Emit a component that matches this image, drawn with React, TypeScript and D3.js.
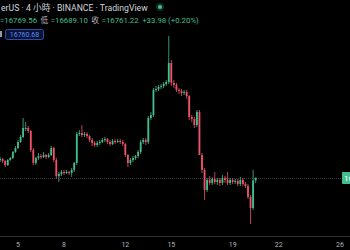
import React from 'react';
import * as d3 from 'd3';

const W = 350;
const H = 250;

const startTime = new Date(2022, 11, 3, 20);
const opens = [17007,17020,16993,16938,17007,17034,17116,17171,17253,17322,17431,17445,17404,17144,16966,17034,17061,17048,17075,17048,17075,17171,17007,16787,16815,16842,16829,16842,16829,16870,16966,17363,17377,17349,17363,17335,17281,17240,17212,17240,17253,17281,17294,17253,17226,17267,17253,17267,17253,17226,17075,16966,17007,17034,17061,17116,17253,17281,17253,17582,17623,17966,17979,18007,18020,18048,18075,18336,18062,18034,17966,17952,17925,17938,17883,17596,17568,17486,17664,17075,16870,16596,16733,16692,16746,16705,16733,16692,16760,16733,16692,16733,16705,16719,16678,16733,16678,16650,16500,16349,16727.24];
const highs = [17048,17034,17007,17020,17048,17130,17198,17281,17349,17582,17527,17472,17418,17171,17048,17103,17089,17116,17089,17103,17198,17185,17034,16842,16870,16870,16870,16856,16897,16979,17390,17418,17486,17390,17390,17349,17308,17267,17267,17281,17308,17322,17308,17281,17294,17294,17294,17294,17281,17240,17089,17034,17061,17075,17144,17281,17308,17308,17609,17664,17993,18020,18034,18048,18075,18103,18705,18377,18103,18062,17993,17979,17966,17966,17897,17623,17596,17692,17692,17103,16897,16760,16787,16774,16842,16760,16760,16801,16787,16842,16760,16760,16746,16746,16774,16760,16705,16678,16527,16870,16769.56];
const lows = [16979,16966,16911,16924,16993,17020,17103,17157,17240,17308,17404,17377,17116,16938,16938,17007,17020,17034,17020,17034,17061,16979,16746,16705,16787,16801,16815,16801,16774,16842,16938,17335,17322,17322,17308,17253,17198,17185,17185,17212,17240,17253,17226,17198,17212,17226,17240,17226,17198,17048,16911,16938,16979,17007,17034,17089,17226,17212,17226,17555,17596,17938,17952,17979,17993,18020,18048,18020,17993,17938,17911,17883,17897,17842,17555,17527,17445,17459,17089,16829,16459,16568,16664,16664,16678,16664,16650,16664,16692,16664,16664,16678,16678,16650,16650,16650,16623,16472,16130,16322,16689.10];
const closes = [17020,16993,16938,17007,17034,17116,17171,17253,17322,17445,17445,17404,17144,16966,17034,17061,17048,17075,17048,17075,17171,17007,16787,16815,16842,16829,16842,16829,16870,16966,17363,17377,17349,17363,17335,17281,17240,17212,17240,17253,17281,17294,17253,17226,17267,17253,17267,17253,17226,17075,16966,17007,17034,17061,17116,17253,17281,17253,17582,17623,17966,17979,18007,18020,18048,18075,18336,18062,18034,17966,17952,17925,17938,17883,17596,17568,17486,17664,17075,16870,16596,16733,16692,16746,16705,16733,16692,16760,16733,16692,16733,16705,16719,16678,16733,16678,16650,16500,16349,16727.24,16761.22];

const tickDays = [5, 8, 12, 15, 19, 22, 26];
const headerTitle = 'erUS · 4 小時 · BINANCE · TradingView';
const ohlcItems = [
  { label: '', value: '=16769.56' },
  { label: '低', value: '=16689.10' },
  { label: '收', value: '=16761.22' },
  { label: '', value: '+33.98 (+0.20%)' },
];
const lastPrice = 16761.22;
const boxPrice = '16760.68';

const UP = '#43bf8f';
const DOWN = '#ef5368';

export default function App() {
  const candles = opens.map((o, i) => ({
    t: d3.timeHour.offset(startTime, 4 * i),
    o,
    h: highs[i],
    l: lows[i],
    c: closes[i],
  }));
  const x = d3
    .scaleTime()
    .domain([startTime, new Date(2022, 11, 26)])
    .range([0.1, 340]);
  const y = d3.scaleLinear().domain([15965, 19199]).range([236, 0]);
  const bw = 1.8;
  const font = "Roboto, 'Noto Sans CJK TC', sans-serif";

  return (
    <svg
      width={W}
      height={H}
      style={{ position: 'absolute', left: 0, top: 0, background: '#000' }}
      fontFamily={font}
    >
      <rect width={W} height={H} fill="#000" />
      <line
        x1={0}
        x2={342}
        y1={Math.round(y(lastPrice)) + 0.5}
        y2={Math.round(y(lastPrice)) + 0.5}
        stroke="#3a3a3a"
        strokeDasharray="1,1"
      />
      {candles.map((d, i) => {
        const cx = x(d.t);
        const up = d.c >= d.o;
        const col = up ? UP : DOWN;
        const top = y(Math.max(d.o, d.c));
        const bot = y(Math.min(d.o, d.c));
        return (
          <g key={i}>
            <line x1={cx} x2={cx} y1={y(d.h)} y2={y(d.l)} stroke={col} strokeWidth={0.8} />
            <rect x={cx - bw / 2} y={top} width={bw} height={Math.max(1, bot - top)} fill={col} />
          </g>
        );
      })}
      <line x1={0} x2={W} y1={236.5} y2={236.5} stroke="#2f2f2f" />
      {tickDays.map((d) => (
        <text
          key={d}
          x={x(new Date(2022, 11, d))}
          y={247}
          fontSize={7}
          fill="#b2b5be"
          textAnchor="middle"
        >
          {d}
        </text>
      ))}
      <rect x={342} y={y(lastPrice) - 6} width={60} height={12} fill={UP} rx={1} />
      <text x={344} y={y(lastPrice) + 3} fontSize={8} fill="#fff">
        {lastPrice.toFixed(2)}
      </text>
      <text x={1} y={11} fontSize={8.7} fill="#d1d4dc">
        {headerTitle}
      </text>
      <circle cx={160} cy={7} r={4} fill={UP} opacity={0.25} />
      <circle cx={160} cy={7} r={2} fill={UP} />
      <text x={0} y={23} fontSize={7.8}>
        {ohlcItems.map((it, i) => (
          <React.Fragment key={i}>
            {it.label && <tspan fill="#b2b5be" dx={i ? 3.5 : 0}>{it.label}</tspan>}
            <tspan fill={UP} dx={it.label ? 2.5 : i ? 3.5 : 0}>{it.value}</tspan>
          </React.Fragment>
        ))}
      </text>
      <rect x={0} y={31} width={2} height={6} fill="#9598a1" />
      <rect x={5.5} y={29.5} width={38} height={10} fill="#0b1430" stroke="#2a4fb0" rx={2} />
      <text x={24.5} y={37.2} fontSize={7} fill="#5d8bff" textAnchor="middle">
        {boxPrice}
      </text>
    </svg>
  );
}
